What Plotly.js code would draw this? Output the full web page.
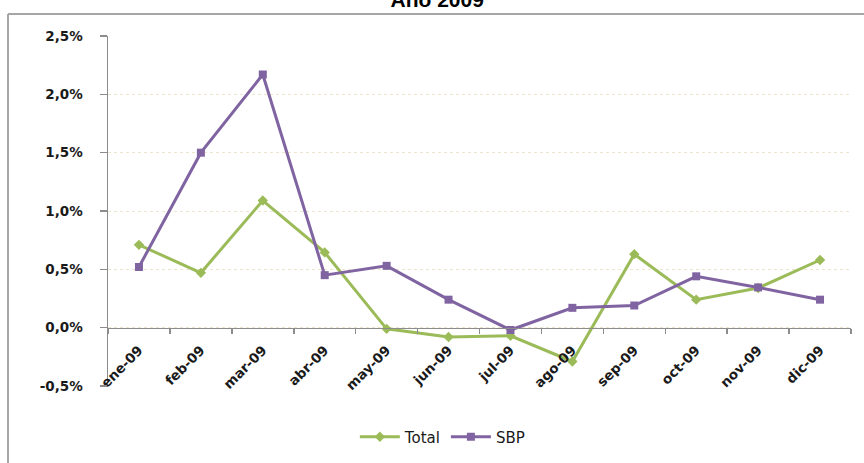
<!DOCTYPE html>
<html>
<head>
<meta charset="utf-8">
<script src="https://cdn.plot.ly/plotly-3.0.1.min.js"></script>
<style>html,body{margin:0;padding:0;background:#fff;}#chart{width:864px;height:463px;}</style>
</head>
<body>
<div id="chart"></div>
<script>
const months = ['ene-09','feb-09','mar-09','abr-09','may-09','jun-09','jul-09','ago-09','sep-09','oct-09','nov-09','dic-09'];
const totalValues = [0.71, 0.47, 1.09, 0.645, -0.01, -0.08, -0.07, -0.29, 0.63, 0.24, 0.34, 0.58];
const sbpValues = [0.52, 1.50, 2.17, 0.45, 0.53, 0.24, -0.02, 0.17, 0.19, 0.44, 0.345, 0.24];
const yTickVals = [-0.5, 0, 0.5, 1, 1.5, 2, 2.5];
const yTickText = ['-0,5%', '0,0%', '0,5%', '1,0%', '1,5%', '2,0%', '2,5%'];
const chartTitle = 'Año 2009';

const traces = [
  {x: months, y: totalValues, name: 'Total', type: 'scatter', mode: 'lines+markers',
   line: {color: '#9BBB59', width: 3}, marker: {symbol: 'diamond', size: 8, color: '#9BBB59'}},
  {x: months, y: sbpValues, name: 'SBP', type: 'scatter', mode: 'lines+markers',
   line: {color: '#8064A2', width: 3}, marker: {symbol: 'square', size: 8, color: '#8064A2'}}
];

const layout = {
  width: 864, height: 463,
  margin: {l: 108, r: 13, t: 36, b: 77},
  paper_bgcolor: '#ffffff', plot_bgcolor: '#ffffff',
  font: {family: 'DejaVu Sans, sans-serif', color: '#1a1a1a'},
  title: {text: '<b>' + chartTitle + '</b>', font: {family: 'Liberation Sans, Arial, sans-serif', size: 21, color: '#000'},
          x: 0.506, xref: 'container', xanchor: 'center', y: 0.985, yref: 'container', yanchor: 'bottom'},
  showlegend: true,
  legend: {orientation: 'h', x: 0.45, xanchor: 'center', xref: 'paper', y: 0.056, yref: 'container', yanchor: 'middle',
           font: {family: 'DejaVu Sans, sans-serif', size: 15, color: '#1a1a1a'}, itemwidth: 40},
  xaxis: {type: 'category', anchor: 'free', position: 0.5/3, range: [-0.5, 11.5],
          showline: true, linecolor: '#8c8c8c', linewidth: 1.5,
          ticks: 'outside', tickson: 'boundaries', ticklen: 5, tickcolor: '#8c8c8c', tickwidth: 1.5,
          ticklabelstandoff: 8,
          tickangle: -45, tickfont: {family: 'DejaVu Sans, sans-serif', size: 13.5, color: '#1a1a1a', weight: 'bold'},
          showgrid: false, zeroline: false, automargin: false, fixedrange: true},
  yaxis: {range: [-0.5, 2.5], tickvals: yTickVals, ticktext: yTickText,
          showline: true, linecolor: '#8c8c8c', linewidth: 1.5,
          ticks: 'outside', ticklen: 7, tickcolor: '#8c8c8c', tickwidth: 1.5,
          ticklabelstandoff: 14,
          tickfont: {family: 'DejaVu Sans, sans-serif', size: 13.5, color: '#1a1a1a', weight: 'bold'},
          showgrid: true, gridcolor: '#eee6cc', griddash: 'dot', gridwidth: 1,
          zeroline: false, automargin: false, fixedrange: true},
  shapes: [
    {type: 'line', xref: 'paper', yref: 'paper', x0: -0.1346, x1: 1.03, y0: 1.0629, y1: 1.0629,
     line: {color: '#a6a6a6', width: 2}},
    {type: 'line', xref: 'paper', yref: 'paper', x0: -0.1346, x1: -0.1346, y0: 1.0629, y1: -0.3,
     line: {color: '#a6a6a6', width: 2}}
  ]
};

Plotly.newPlot('chart', traces, layout, {displayModeBar: false, staticPlot: true});
</script>
</body>
</html>
